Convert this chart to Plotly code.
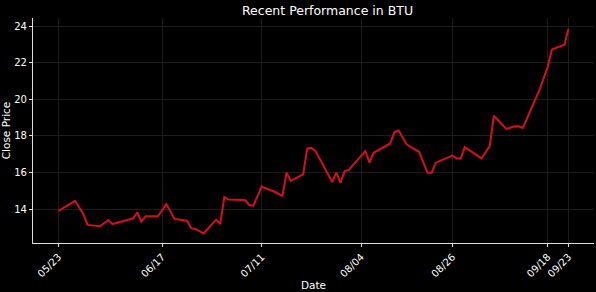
import plotly.graph_objects as go
import pandas as pd

# day offsets from 2024-05-23 and close prices
day_offsets = [0, 4, 6, 7, 10, 12, 13, 18, 19, 20, 21, 24, 26, 28, 31, 32, 33, 35, 38, 39,
               40, 41, 45, 46, 47, 49, 52, 54, 55, 56, 59, 60, 61, 62, 66, 67, 68, 69, 70,
               74, 75, 76, 80, 81, 82, 84, 87, 89, 90, 91, 95, 96, 97, 98, 102, 104, 105,
               108, 110, 111, 112, 116, 118, 119, 122, 123]
close_prices = [13.90, 14.45, 13.73, 13.13, 13.06, 13.40, 13.18, 13.49, 13.82, 13.31, 13.60,
                13.60, 14.27, 13.46, 13.36, 12.95, 12.91, 12.66, 13.42, 13.18,
                14.65, 14.52, 14.49, 14.22, 14.18, 15.23, 14.96, 14.72, 15.99, 15.54,
                15.90, 17.32, 17.35, 17.17, 15.48, 15.99, 15.45, 16.08, 16.14,
                17.17, 16.54, 17.08, 17.59, 18.20, 18.31, 17.53, 17.12, 15.99, 15.99, 16.54,
                16.93, 16.77, 16.77, 17.39, 16.77, 17.45, 19.11,
                18.39, 18.53, 18.53, 18.44, 20.52, 21.79, 22.73, 23.00, 23.87]
tick_dates = ["2024-05-23", "2024-06-17", "2024-07-11", "2024-08-04", "2024-08-26", "2024-09-18", "2024-09-23"]
tick_labels = ["05/23", "06/17", "07/11", "08/04", "08/26", "09/18", "09/23"]
y_ticks = [14, 16, 18, 20, 22, 24]

start = pd.Timestamp("2024-05-23")
dates = [start + pd.Timedelta(days=d) for d in day_offsets]

fig = go.Figure()
fig.add_trace(go.Scatter(x=dates, y=close_prices, mode="lines",
                         line=dict(color="#d5101c", width=2)))

fig.update_layout(
    width=596, height=292,
    paper_bgcolor="black", plot_bgcolor="black",
    margin=dict(l=33, r=2, t=18, b=47),
    showlegend=False,
    font=dict(family="DejaVu Sans", color="white", size=10),
    title=dict(text="Recent Performance in BTU", x=0.525, xanchor="center",
               xref="paper", yref="container",
               y=0.962, yanchor="middle", font=dict(size=12.5, color="white")),
)
fig.update_xaxes(
    type="date",
    range=[start - pd.Timedelta(days=6.15), start + pd.Timedelta(days=129.15)],
    tickvals=tick_dates, ticktext=tick_labels, tickangle=-45,
    showline=True, linecolor="#dddddd", linewidth=1.2, mirror=False,
    showgrid=True, gridcolor="#1c1c1c", gridwidth=1,
    ticks="outside", tickcolor="#dddddd", ticklen=3,
    tickfont=dict(size=10, color="white"),
    title=dict(text="Date", font=dict(size=10.5, color="white"), standoff=3),
    zeroline=False,
)
fig.update_yaxes(
    range=[12.14, 24.46], tickvals=y_ticks,
    showline=True, linecolor="#dddddd", linewidth=1.2, mirror=False,
    showgrid=True, gridcolor="#1c1c1c", gridwidth=1,
    ticks="outside", tickcolor="#dddddd", ticklen=3,
    tickfont=dict(size=10, color="white"),
    title=dict(text="Close Price", font=dict(size=10.5, color="white"), standoff=4),
    zeroline=False,
)

fig.write_html("out.html")
